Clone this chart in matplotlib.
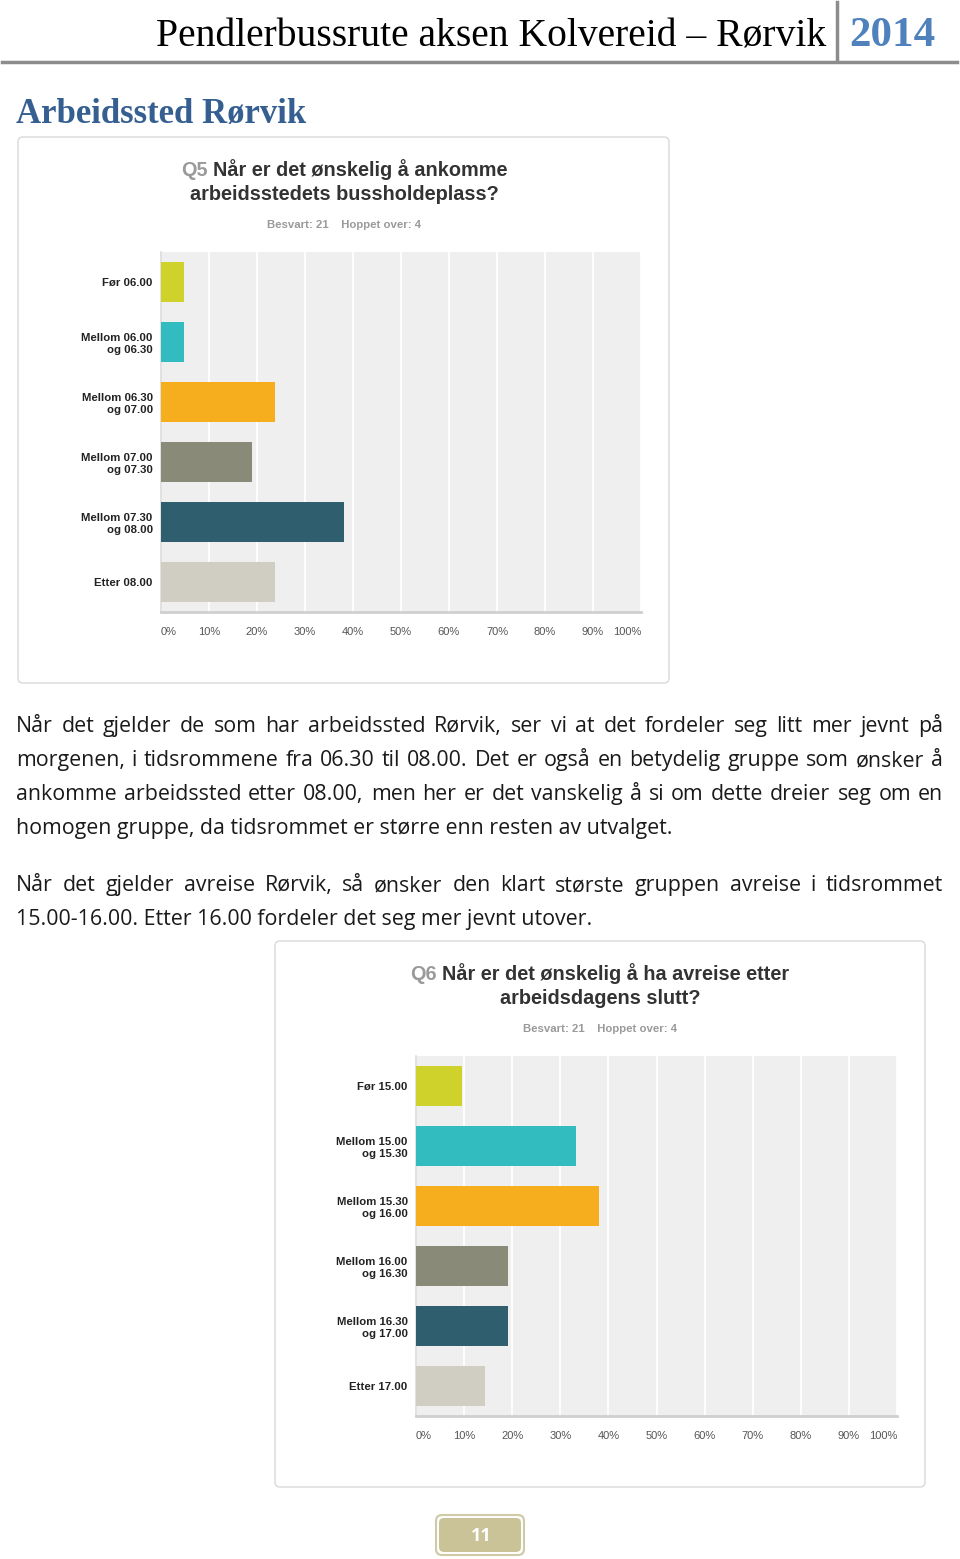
import matplotlib
matplotlib.use("Agg")
import matplotlib.pyplot as plt
from matplotlib.patches import FancyBboxPatch

# data
q5_labels = ["Før 06.00", "Mellom 06.00\nog 06.30", "Mellom 06.30\nog 07.00",
             "Mellom 07.00\nog 07.30", "Mellom 07.30\nog 08.00", "Etter 08.00"]
q5_values = [4.76, 4.76, 23.81, 19.05, 38.10, 23.81]

q6_labels = ["Før 15.00", "Mellom 15.00\nog 15.30", "Mellom 15.30\nog 16.00",
             "Mellom 16.00\nog 16.30", "Mellom 16.30\nog 17.00", "Etter 17.00"]
q6_values = [9.52, 33.33, 38.10, 19.05, 19.05, 14.29]

tick_vals = list(range(0, 101, 10))
tick_labels = [f"{v}%" for v in tick_vals]

bar_colors = ["#cfd22b", "#33bcc0", "#f6ae1f", "#8a8a78", "#2f5f6e", "#d0cec2"]

para1 = ["Når det gjelder de som har arbeidssted Rørvik, ser vi at det fordeler seg litt mer jevnt på",
         "morgenen, i tidsrommene fra 06.30 til 08.00. Det er også en betydelig gruppe som ønsker å",
         "ankomme arbeidssted etter 08.00, men her er det vanskelig å si om dette dreier seg om en",
         "homogen gruppe, da tidsrommet er større enn resten av utvalget."]
para2 = ["Når det gjelder avreise Rørvik, så ønsker den klart største gruppen avreise i tidsrommet",
         "15.00-16.00. Etter 16.00 fordeler det seg mer jevnt utover."]

W, H = 960, 1559
fig = plt.figure(figsize=(9.6, 15.59), dpi=100)
fig.patch.set_facecolor("white")

bg = fig.add_axes([0, 0, 1, 1])
bg.set_xlim(0, W)
bg.set_ylim(H, 0)
bg.axis("off")
bg.set_zorder(-1)
renderer = fig.canvas.get_renderer()

SANS = "Liberation Sans"
SERIF = "Liberation Serif"
BODY = "Open Sans"


def text_w(s, **kw):
    t = bg.text(0, 0, s, **kw)
    w = t.get_window_extent(renderer).width
    t.remove()
    return w


# header
bg.text(826, 46, "Pendlerbussrute aksen Kolvereid – Rørvik", ha="right", va="baseline",
        fontsize=28.5, family=SERIF, color="black")
bg.text(849, 46, "2014", ha="left", va="baseline", fontsize=31, family=SERIF,
        fontweight="bold", color="#4f81bd")
bg.plot([837, 837], [2, 61], color="#8c8c8c", lw=2.5)
bg.plot([2, 957], [62, 62], color="#8c8c8c", lw=2.5)

bg.text(16, 123, "Arbeidssted Rørvik", ha="left", va="baseline", fontsize=25,
        family=SERIF, fontweight="bold", color="#365f91")


def px_axes(x0, y0, x1, y1):
    return fig.add_axes([x0 / W, 1 - y1 / H, (x1 - x0) / W, (y1 - y0) / H])


def draw_chart(box, plot, qnum, title_lines, labels, values, center_x, title_y):
    bx0, by0, bx1, by1 = box
    bg.add_patch(FancyBboxPatch((bx0, by0), bx1 - bx0, by1 - by0,
                                boxstyle="round,pad=0,rounding_size=5",
                                fc="white", ec="#d9d9d9", lw=1))
    # title, first word grey
    tkw = dict(fontsize=14.3, family=SANS, fontweight="bold")
    first = title_lines[0]
    w_q = text_w(qnum + " ", **tkw)
    w_all = text_w(qnum + " " + first, **tkw)
    sx = center_x - w_all / 2
    bg.text(sx, title_y, qnum, ha="left", va="baseline", color="#9a9a9a", **tkw)
    bg.text(sx + w_q, title_y, first, ha="left", va="baseline", color="#333333", **tkw)
    bg.text(center_x, title_y + 24, title_lines[1], ha="center", va="baseline",
            color="#333333", **tkw)
    bg.text(center_x, title_y + 52, "Besvart: 21    Hoppet over: 4", ha="center",
            va="baseline", fontsize=8.2, family=SANS, fontweight="bold", color="#9a9a9a")

    ax = px_axes(*plot)
    ax.set_facecolor("#efefef")
    ypos = list(range(len(labels)))
    ax.barh(ypos, values, height=0.66, color=bar_colors, zorder=3)
    ax.set_xlim(0, 100)
    ax.set_ylim(len(labels) - 0.5, -0.5)
    ax.set_xticks(tick_vals)
    ax.set_xticklabels(tick_labels, fontsize=8, family=SANS, color="#555555")
    lbls = ax.get_xticklabels()
    lbls[0].set_ha("left")
    lbls[-1].set_ha("right")
    ax.tick_params(axis="x", length=0, pad=11)
    ax.set_yticks(ypos)
    ax.set_yticklabels(labels, fontsize=8.2, family=SANS, fontweight="bold",
                       color="#222222", linespacing=1.3)
    ax.tick_params(axis="y", length=0, pad=6)
    ax.grid(axis="x", color="white", lw=1.3, zorder=1)
    for s in ["top", "right"]:
        ax.spines[s].set_visible(False)
    ax.spines["bottom"].set_color("#cfcfcf")
    ax.spines["bottom"].set_linewidth(2)
    ax.spines["left"].set_color("#dcdcdc")
    ax.spines["left"].set_linewidth(1.2)
    return ax


draw_chart((18, 137, 669, 683), (161, 252, 641, 612), "Q5",
           ["Når er det ønskelig å ankomme", "arbeidsstedets bussholdeplass?"],
           q5_labels, q5_values, 344, 176)
draw_chart((275, 941, 925, 1487), (416, 1056, 897, 1416), "Q6",
           ["Når er det ønskelig å ha avreise etter", "arbeidsdagens slutt?"],
           q6_labels, q6_values, 600, 980)

# justified body text; size fitted so the free last line spans 16..673 px
left, right = 16, 943
body_size = 10 * 657 / text_w(para1[-1], fontsize=10, family=BODY)
bkw = dict(fontsize=body_size, family=BODY, color="#1a1a1a")


def paragraph(lines, y0, step=34):
    for i, line in enumerate(lines):
        y = y0 + i * step
        if i == len(lines) - 1:
            bg.text(left, y, line, ha="left", va="baseline", **bkw)
            continue
        words = line.split()
        widths = [text_w(w, **bkw) for w in words]
        gap = (right - left - sum(widths)) / (len(words) - 1)
        x = left
        for w, ww in zip(words, widths):
            bg.text(x, y, w, ha="left", va="baseline", **bkw)
            x += ww + gap


paragraph(para1, 732)
paragraph(para2, 891)

# page number
bg.add_patch(FancyBboxPatch((436, 1515), 88, 40, boxstyle="round,pad=0,rounding_size=6",
                            fc="white", ec="#cfc9a6", lw=1.5))
bg.add_patch(FancyBboxPatch((439, 1518), 82, 34, boxstyle="round,pad=0,rounding_size=5",
                            fc="#cac398", ec="none"))
bg.text(481, 1536, "11", ha="center", va="center", fontsize=13, family=BODY,
        fontweight="bold", color="white")

fig.savefig("out.png", dpi=100)
